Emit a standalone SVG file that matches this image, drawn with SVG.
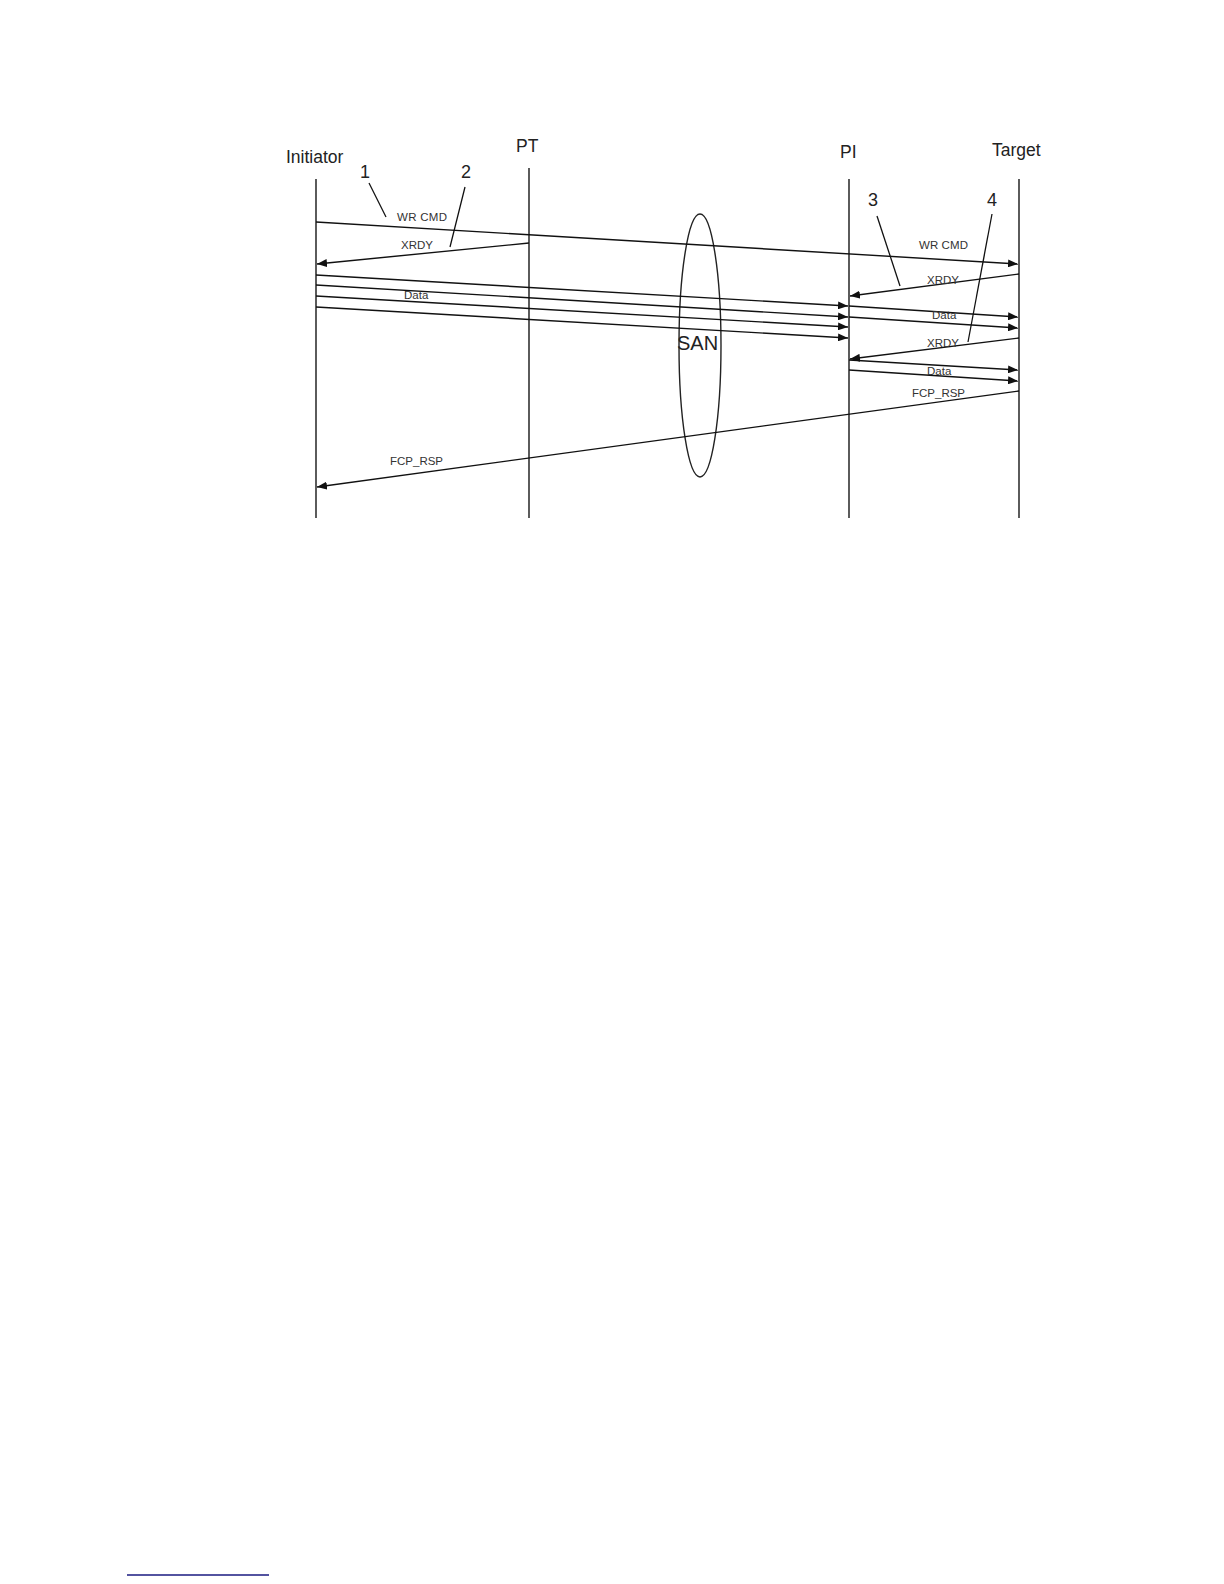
<svg xmlns="http://www.w3.org/2000/svg" width="1224" height="1584" viewBox="0 0 1224 1584">
<style>
.life{stroke:#333;stroke-width:1.6;fill:none}
.msg{stroke:#111;stroke-width:1.4;fill:none;marker-end:url(#ah)}
.lead{stroke:#111;stroke-width:1.3;fill:none}
.hdr{font-family:"Liberation Sans",Arial,sans-serif;font-size:17.5px;fill:#222}
.num{font-family:"Liberation Sans",Arial,sans-serif;font-size:18px;fill:#222}
.lbl{font-family:"Liberation Sans",Arial,sans-serif;font-size:11.5px;fill:#333}
</style>
<defs>
<marker id="ah" viewBox="0 0 10 8" refX="10" refY="4" markerWidth="10" markerHeight="8" markerUnits="userSpaceOnUse" orient="auto">
<path d="M0,0 L10,4 L0,8 Z" fill="#111"/>
</marker>
</defs>
<rect width="1224" height="1584" fill="#fff"/>
<g id="initiator">
<text class="hdr" x="286" y="163">Initiator</text>
<line class="life" x1="316" y1="179" x2="316" y2="518"/>
</g>
<g id="pt">
<text class="hdr" x="516" y="152">PT</text>
<line class="life" x1="529" y1="168" x2="529" y2="518"/>
</g>
<g id="pi">
<text class="hdr" x="840" y="158">PI</text>
<line class="life" x1="849" y1="179" x2="849" y2="518"/>
</g>
<g id="target">
<text class="hdr" x="992" y="156">Target</text>
<line class="life" x1="1019" y1="179" x2="1019" y2="518"/>
</g>
<g id="san">
<ellipse cx="700" cy="345.5" rx="21" ry="131.5" fill="none" stroke="#222" stroke-width="1.4"/>
<text x="677" y="350" font-family="Liberation Sans, Arial, sans-serif" font-size="20" fill="#222">SAN</text>
</g>
<g id="connectors">
<line class="msg" x1="316" y1="222" x2="1018" y2="264"/>
<line class="msg" x1="529" y1="243" x2="317" y2="264"/>
<line class="msg" x1="316" y1="275" x2="848" y2="306"/>
<line class="msg" x1="316" y1="285" x2="848" y2="317"/>
<line class="msg" x1="316" y1="296" x2="848" y2="327"/>
<line class="msg" x1="316" y1="307" x2="848" y2="338"/>
<line class="msg" x1="1019" y1="274" x2="850" y2="296"/>
<line class="msg" x1="849" y1="306" x2="1018" y2="317"/>
<line class="msg" x1="849" y1="317" x2="1018" y2="328"/>
<line class="msg" x1="1019" y1="338" x2="850" y2="359"/>
<line class="msg" x1="849" y1="360" x2="1018" y2="370"/>
<line class="msg" x1="849" y1="370" x2="1018" y2="381"/>
<line class="msg" x1="1019" y1="391" x2="317" y2="487"/>
<line class="lead" x1="369" y1="183" x2="386" y2="217"/>
<line class="lead" x1="465" y1="187" x2="450" y2="247"/>
<line class="lead" x1="877" y1="216" x2="900" y2="286"/>
<line class="lead" x1="992" y1="214" x2="968" y2="342"/>
</g>
<g id="labels">
<text class="num" x="360" y="178">1</text>
<text class="num" x="461" y="178">2</text>
<text class="num" x="868" y="206">3</text>
<text class="num" x="987" y="206">4</text>
<text class="lbl" x="397" y="221" textLength="50">WR CMD</text>
<text class="lbl" x="401" y="249">XRDY</text>
<text class="lbl" x="404" y="299">Data</text>
<text class="lbl" x="919" y="249" textLength="49">WR CMD</text>
<text class="lbl" x="927" y="284">XRDY</text>
<text class="lbl" x="932" y="319">Data</text>
<text class="lbl" x="927" y="347">XRDY</text>
<text class="lbl" x="927" y="375">Data</text>
<text class="lbl" x="912" y="397">FCP_RSP</text>
<text class="lbl" x="390" y="465">FCP_RSP</text>
</g>
<line x1="127" y1="1575" x2="269" y2="1575" stroke="#1a1a80" stroke-width="1.5"/>
</svg>
